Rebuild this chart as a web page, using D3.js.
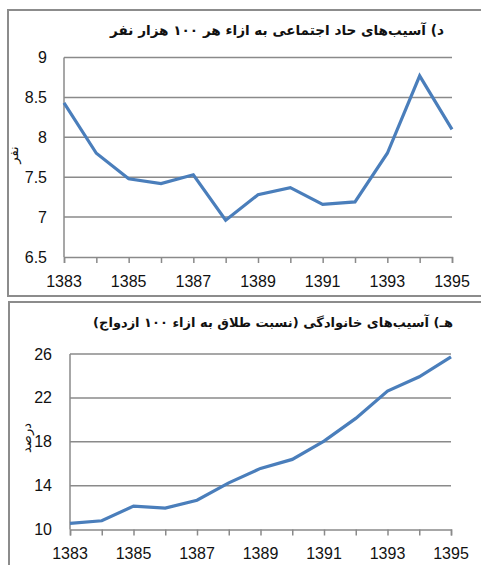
<!DOCTYPE html>
<html><head><meta charset="utf-8">
<script src="https://cdn.jsdelivr.net/npm/d3@7"></script>
<style>body{margin:0;background:#fff}svg{display:block}</style>
</head><body>
<script>
const years = [1383,1384,1385,1386,1387,1388,1389,1390,1391,1392,1393,1394,1395];
const socialValues = [8.43,7.80,7.48,7.42,7.53,6.96,7.28,7.37,7.16,7.19,7.80,8.77,8.10];
const divorceValues = [10.55,10.8,12.13,11.95,12.67,14.25,15.57,16.39,18.06,20.13,22.62,23.92,25.74];
const socialTicks = [6.5,7,7.5,8,8.5,9];
const divorceTicks = [10,14,18,22,26];
const xTickLabels = [1383,1385,1387,1389,1391,1393,1395];
const title1 = "د) آسیب‌های حاد اجتماعی به ازاء هر ۱۰۰ هزار نفر";
const title2 = "هـ) آسیب‌های خانوادگی (نسبت طلاق به ازاء ۱۰۰ ازدواج)";
const yLabel1 = "نفر";
const yLabel2 = "درصد";

const W = 481, H = 565;
const svg = d3.select("body").append("svg").attr("width", W).attr("height", H);

function panel(cfg){
  const g = svg.append("g");
  g.append("rect").attr("x", cfg.bx).attr("y", cfg.by).attr("width", cfg.bw).attr("height", cfg.bh)
    .attr("fill","#fff").attr("stroke","#8c8c8c").attr("stroke-width",2);
  const x = d3.scaleLinear().domain([years[0], years[years.length-1]]).range([cfg.x0, cfg.x1]);
  const y = d3.scaleLinear().domain(d3.extent(cfg.ticks)).range([cfg.y1, cfg.y0]);
  g.append("g").selectAll("line").data(cfg.ticks.slice(1)).join("line")
    .attr("x1", cfg.x0).attr("x2", cfg.x1).attr("y1", d=>y(d)).attr("y2", d=>y(d))
    .attr("stroke","#8a8a8a").attr("stroke-width",1.5);
  g.append("line").attr("x1",cfg.x0).attr("x2",cfg.x0).attr("y1",y(cfg.ticks[cfg.ticks.length-1])).attr("y2",cfg.y1)
    .attr("stroke","#8a8a8a").attr("stroke-width",1.5);
  const xa = d3.axisBottom(x).tickValues(years).tickSize(6).tickFormat("");
  const gx = g.append("g").attr("transform",`translate(0,${cfg.y1})`).call(xa);
  gx.select(".domain").attr("stroke","#8a8a8a").attr("stroke-width",1.5);
  gx.selectAll(".tick line").attr("stroke","#8a8a8a").attr("stroke-width",1.5);
  g.append("g").selectAll("text").data(xTickLabels).join("text")
    .attr("x", d=>x(d)).attr("y", cfg.xLabY).attr("text-anchor","middle")
    .attr("font-family","Liberation Sans, Arial, sans-serif").attr("font-size",16).attr("fill","#111")
    .text(d=>d);
  g.append("g").selectAll("text").data(cfg.ticks).join("text")
    .attr("x", cfg.yLabX).attr("y", d=>y(d)+5.5).attr("text-anchor","end")
    .attr("font-family","Liberation Sans, Arial, sans-serif").attr("font-size",16).attr("fill","#111")
    .text(d=>d);
  const line = d3.line().x((d,i)=>x(years[i])).y(d=>y(d));
  g.append("path").datum(cfg.values).attr("d", line).attr("fill","none")
    .attr("stroke","#4a7ebb").attr("stroke-width",3.2).attr("stroke-linejoin","miter");
  g.append("text").attr("x", cfg.tx).attr("y", cfg.ty).attr("text-anchor","middle").attr("direction","rtl")
    .attr("font-family","DejaVu Sans, sans-serif").attr("font-weight","bold").attr("font-size",cfg.tfs).attr("fill","#111")
    .text(cfg.title);
  g.append("text").attr("transform",`translate(${cfg.ylx},${cfg.yly}) rotate(-90)`).attr("text-anchor","middle")
    .attr("font-family","DejaVu Sans, sans-serif").attr("font-size",13).attr("fill","#111")
    .text(cfg.ylabel);
}

panel({bx:8,by:10,bw:490,bh:286,x0:64,x1:452,y0:57.5,y1:257,ticks:socialTicks,values:socialValues,
  xLabY:287,yLabX:47,title:title1,tx:277,ty:35,tfs:13.6,ylabel:yLabel1,ylx:18,yly:155});
panel({bx:9,by:302,bw:490,bh:280,x0:70,x1:451,y0:354,y1:529.5,ticks:divorceTicks,values:divorceValues,
  xLabY:559,yLabX:52,title:title2,tx:273,ty:327,tfs:13,ylabel:yLabel2,ylx:31,yly:438});
</script>
</body></html>
